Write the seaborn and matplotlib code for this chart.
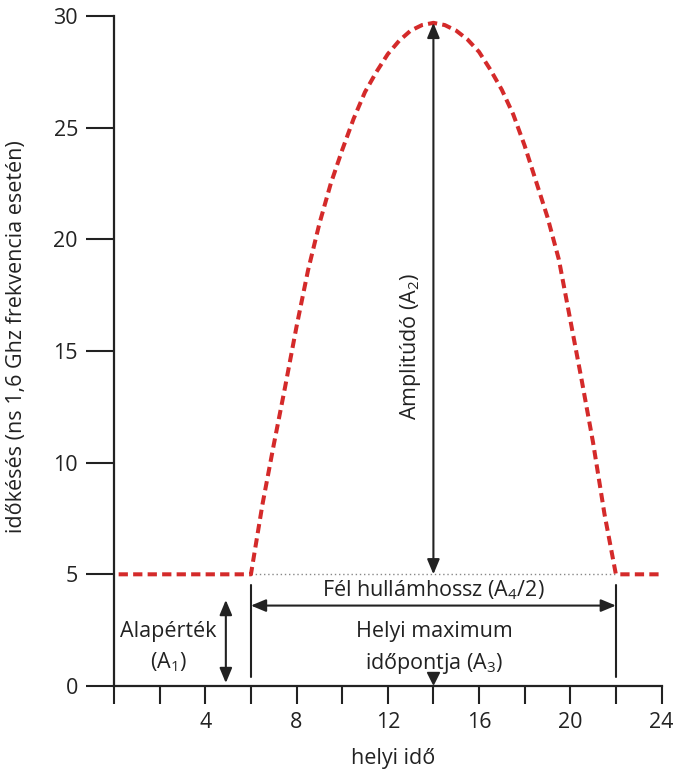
import matplotlib
matplotlib.use("Agg")
import matplotlib.pyplot as plt
import seaborn as sns
import pandas as pd

# ---- data ----
time_h = [0.2, 6.0, 6.5, 7.0, 7.5, 8.0, 8.5, 9.0, 9.5, 10.0, 10.5, 11.0, 11.5, 12.0,
          12.5, 13.0, 13.5, 14.0, 14.5, 15.0, 15.5, 16.0, 16.5, 17.0, 17.5, 18.0,
          18.5, 19.0, 19.5, 20.0, 20.5, 21.0, 21.5, 22.0, 24.0]
delay_ns = [5.0, 5.0, 8.1, 10.8, 13.4, 16.1, 18.6, 20.7, 22.5, 24.0, 25.4, 26.6, 27.5, 28.3,
            28.9, 29.35, 29.6, 29.7, 29.6, 29.35, 28.95, 28.4, 27.6, 26.7, 25.6, 24.2,
            22.6, 21.0, 19.1, 16.4, 13.7, 10.9, 7.7, 5.0, 5.0]
baseline = 5.0
peak_time = 14.0
peak_value = 29.7
start_time = 6.0
end_time = 22.0

x_ticks = [0, 2, 4, 6, 8, 10, 12, 14, 16, 18, 20, 22, 24]
x_ticklabels = ["", "", "4", "", "8", "", "12", "", "16", "", "20", "", "24"]
y_ticks = [0, 5, 10, 15, 20, 25, 30]

df = pd.DataFrame({"helyi idő": time_h, "idokeses": delay_ns})

sns.set_style("ticks")
plt.rcParams["font.family"] = ["Open Sans", "DejaVu Sans"]
plt.rcParams["mathtext.fontset"] = "custom"
plt.rcParams["mathtext.rm"] = "Open Sans"
plt.rcParams["mathtext.it"] = "Open Sans"

FS = 15.5
INK = "#222222"
RED = "#d42a2a"

fig = plt.figure(figsize=(6.75, 7.69), dpi=100)
ax = fig.add_axes([0.169, 0.108, 0.811, 0.871])

sns.lineplot(data=df, x="helyi idő", y="idokeses", ax=ax, color=RED,
             linewidth=2.9, sort=False, estimator=None)
ln = ax.lines[0]
ln.set_linestyle((0, (2.3, 1.3)))
ln.set_dash_capstyle("butt")
ln.set_solid_joinstyle("round")
ln.set_clip_on(False)

# dotted baseline under the hump
ax.plot([start_time, end_time], [baseline, baseline], color="#888888",
        lw=1.0, ls=(0, (1, 2)), zorder=1)

ax.set_xlim(0, 24)
ax.set_ylim(0, 30)
ax.set_xticks(x_ticks)
ax.set_xticklabels(x_ticklabels)
ax.set_yticks(y_ticks)
ax.tick_params(axis="y", direction="out", left=True, length=20, width=1.5, pad=6,
               labelsize=FS, colors=INK)
ax.tick_params(axis="x", direction="out", bottom=True, length=13, width=1.5, pad=6,
               labelsize=FS, colors=INK)
for s in ["top", "right"]:
    ax.spines[s].set_visible(False)
for s in ["left", "bottom"]:
    ax.spines[s].set_linewidth(1.6)
    ax.spines[s].set_color(INK)

ax.set_xlabel("helyi idő", fontsize=FS, color=INK)
ax.set_ylabel("időkésés (ns 1,6 Ghz frekvencia esetén)", fontsize=FS, color=INK)
ax.xaxis.set_label_coords(0.51, -0.092)
ax.yaxis.set_label_coords(-0.159, 0.522)

arrow_style = "<|-|>,head_length=0.6,head_width=0.25"
aprops = dict(arrowstyle=arrow_style, color=INK, lw=1.5, mutation_scale=15,
              shrinkA=0, shrinkB=0)

# amplitude arrow
ax.annotate("", xy=(peak_time, peak_value), xytext=(peak_time, baseline), arrowprops=aprops)
ax.text(13.0, 15.2, r"Amplitúdó (A$_{\mathregular{2}}$)", rotation=90,
        ha="center", va="center", fontsize=FS, color=INK)

# half wavelength
ax.plot([start_time, start_time], [0.42, 4.52], color=INK, lw=1.5)
ax.plot([end_time, end_time], [0.42, 4.52], color=INK, lw=1.5)
ax.annotate("", xy=(start_time, 3.6), xytext=(end_time, 3.6), arrowprops=aprops)
ax.text(14.0, 4.3, r"Fél hullámhossz (A$_{\mathregular{4}}$/2)",
        ha="center", va="center", fontsize=FS, color=INK)

# local maximum time
ax.text(14.05, 2.45, "Helyi maximum", ha="center", va="center", fontsize=FS, color=INK)
ax.text(14.05, 1.0, r"időpontja (A$_{\mathregular{3}}$)", ha="center", va="center",
        fontsize=FS, color=INK)
ax.plot([peak_time], [0.36], marker="v", ms=9, color=INK, clip_on=False)

# baseline value
ax.annotate("", xy=(4.9, 3.85), xytext=(4.9, 0.13), arrowprops=aprops)
ax.text(2.37, 2.45, "Alapérték", ha="center", va="center", fontsize=FS, color=INK)
ax.text(2.37, 1.05, r"(A$_{\mathregular{1}}$)", ha="center", va="center",
        fontsize=FS, color=INK)

fig.savefig("out.png", dpi=100)
